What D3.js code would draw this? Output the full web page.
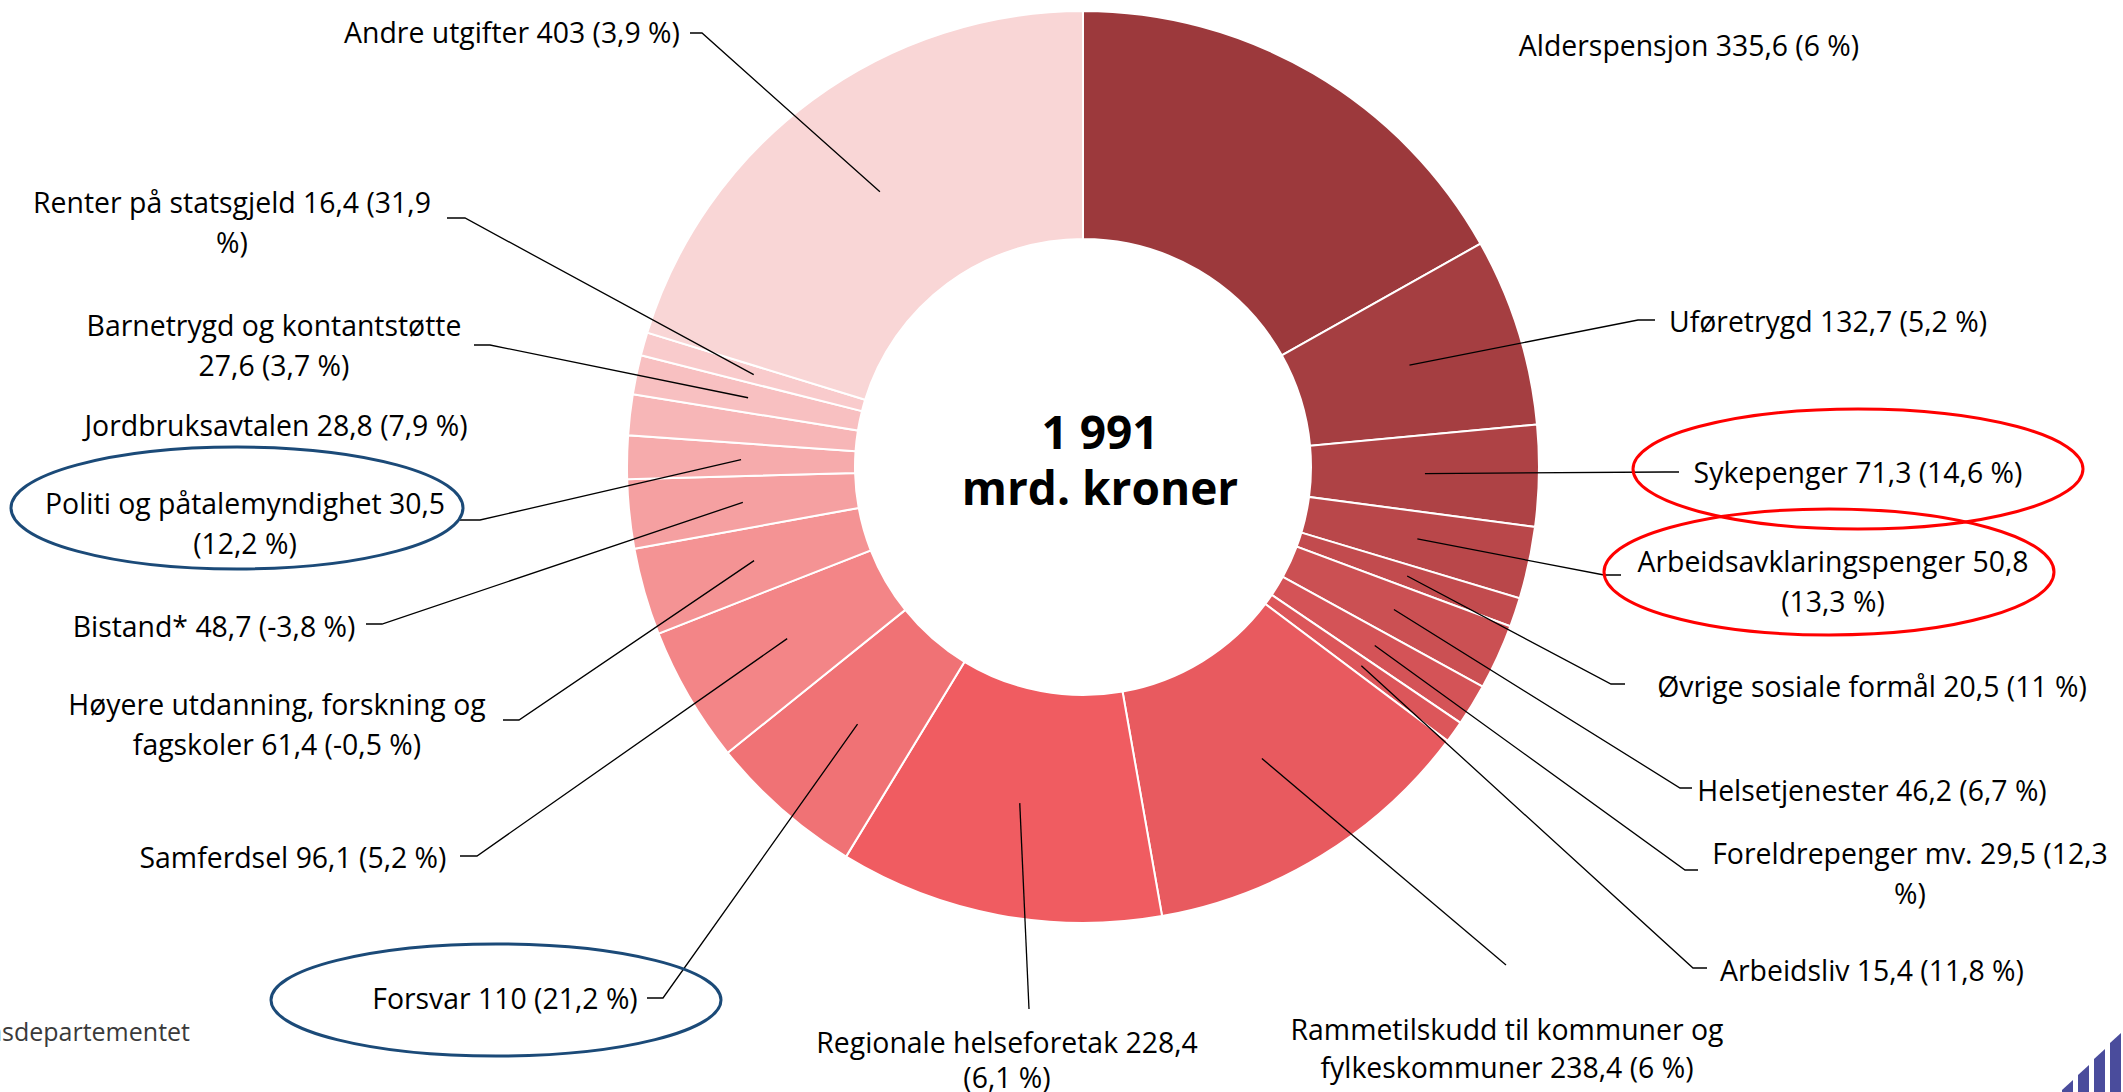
<!DOCTYPE html>
<html>
<head>
<meta charset="utf-8">
<script src="https://cdn.jsdelivr.net/npm/d3@7"></script>
<style>
  body { margin: 0; background: #fff; }
  svg { display: block; font-family: 'Open Sans', sans-serif; }
</style>
</head>
<body>
<div class="areaGrafica"></div>
<script>
// data (mrd. kroner, endring i %)
const kategorier = ['Alderspensjon', 'Uføretrygd', 'Sykepenger', 'Arbeidsavklaringspenger',
  'Øvrige sosiale formål', 'Helsetjenester', 'Foreldrepenger mv.', 'Arbeidsliv',
  'Rammetilskudd til kommuner og fylkeskommuner', 'Regionale helseforetak', 'Forsvar',
  'Samferdsel', 'Høyere utdanning, forskning og fagskoler', 'Bistand*',
  'Politi og påtalemyndighet', 'Jordbruksavtalen', 'Barnetrygd og kontantstøtte',
  'Renter på statsgjeld', 'Andre utgifter']
const verdier = [335.6, 132.7, 71.3, 50.8, 20.5, 46.2, 29.5, 15.4, 238.4, 228.4, 110,
  96.1, 61.4, 48.7, 30.5, 28.8, 27.6, 16.4, 403]
const endring = [6, 5.2, 14.6, 13.3, 11, 6.7, 12.3, 11.8, 6, 6.1, 21.2, 5.2, -0.5, -3.8,
  12.2, 7.9, 3.7, 31.9, 3.9]
const totalTekst = ['1 991', 'mrd. kroner']
const kilde = 'Kilde: Finansdepartementet'

const farger = ['#9c393c', '#a53e41', '#ae4245', '#b9474a', '#c24b4e', '#cb5053', '#d45357',
  '#dc565a', '#e85a5f', '#f05c61', '#f07275', '#f38587', '#f49394', '#f5a0a1', '#f6abac',
  '#f7b6b7', '#f8c0c1', '#f9cbcc', '#f9d6d6']

// label layout: text centre, words on first line, stub end (near label) and elbow
const etiketter = {
  'Alderspensjon':            { x: 1689, y: 45 },
  'Uføretrygd':               { x: 1828, y: 321, stub: [1655, 320], elbow: [1638, 320] },
  'Sykepenger':               { x: 1858, y: 472, stub: [1679, 472], elbow: [1665, 472] },
  'Arbeidsavklaringspenger':  { x: 1833, y: 561, brk: 2, stub: [1621, 575], elbow: [1604, 575] },
  'Øvrige sosiale formål':    { x: 1872, y: 686, stub: [1625, 684], elbow: [1611, 684] },
  'Helsetjenester':           { x: 1872, y: 790, stub: [1692, 788], elbow: [1680, 788] },
  'Foreldrepenger mv.':       { x: 1910, y: 853, brk: 4, stub: [1698, 870], elbow: [1685, 870] },
  'Arbeidsliv':               { x: 1872, y: 970, stub: [1707, 968], elbow: [1693, 968] },
  'Rammetilskudd til kommuner og fylkeskommuner': { x: 1507, y: 1029, brk: 4, lh: 38, stub: [1506, 965] },
  'Regionale helseforetak':   { x: 1007, y: 1042, brk: 3, lh: 35, stub: [1029, 1009] },
  'Forsvar':                  { x: 505, y: 998, stub: [647, 998], elbow: [663, 998] },
  'Samferdsel':               { x: 293, y: 857, stub: [460, 856], elbow: [477, 856] },
  'Høyere utdanning, forskning og fagskoler': { x: 277, y: 704, brk: 4, stub: [503, 720], elbow: [519, 720] },
  'Bistand*':                 { x: 214, y: 626, stub: [366, 624], elbow: [382, 624] },
  'Politi og påtalemyndighet': { x: 245, y: 503, brk: 4, stub: [460, 520], elbow: [480, 520] },
  'Jordbruksavtalen':         { x: 276, y: 425 },
  'Barnetrygd og kontantstøtte': { x: 274, y: 325, brk: 3, stub: [474, 345], elbow: [490, 345] },
  'Renter på statsgjeld':     { x: 232, y: 202, brk: 5, stub: [447, 218], elbow: [465, 218] },
  'Andre utgifter':           { x: 512, y: 32, stub: [690, 33], elbow: [702, 33] }
}

// highlight rings round some labels
const ringer = [
  { navn: 'Sykepenger', cx: 1858, cy: 469, rx: 225, ry: 60, farge: '#ff0000' },
  { navn: 'Arbeidsavklaringspenger', cx: 1829, cy: 572, rx: 225, ry: 63, farge: '#ff0000' },
  { navn: 'Politi og påtalemyndighet', cx: 237, cy: 508, rx: 226, ry: 61, farge: '#1b4a78' },
  { navn: 'Forsvar', cx: 496, cy: 1000, rx: 225, ry: 56, farge: '#1b4a78' }
]

const w = 2123
const h = 1092
const cx = 1083
const cy = 467
const rInner = 228
const rOuter = 456
const fontSize = 28.4
const lineH = 40

const tall = (v) => String(v).replace('.', ',')

let svg = d3.select('.areaGrafica').append('svg')
            .attr('width', w)
            .attr('height', h)

let pie = d3.pie().sort(null).value((d) => d)
let arc = d3.arc().innerRadius(rInner).outerRadius(rOuter)
let biter = pie(verdier)

let g = svg.append('g').attr('transform', 'translate(' + cx + ',' + cy + ')')

g.selectAll('path')
 .data(biter)
 .enter()
 .append('path')
 .attr('d', arc)
 .attr('fill', (d, i) => farger[i])
 .attr('stroke', '#fff')
 .attr('stroke-width', 2)

// leader lines
let linjer = svg.append('g')
biter.forEach(function (d, i) {
  let e = etiketter[kategorier[i]]
  if (!e.stub) return
  let c = arc.centroid(d)
  let pts = [[cx + c[0], cy + c[1]]]
  if (e.elbow) pts.push(e.elbow)
  pts.push(e.stub)
  linjer.append('path')
        .attr('d', d3.line()(pts))
        .attr('fill', 'none')
        .attr('stroke', '#000')
        .attr('stroke-width', 1.3)
})

// labels
let tekster = svg.append('g')
                 .attr('font-size', fontSize)
                 .attr('fill', '#000')
                 .attr('text-anchor', 'middle')
kategorier.forEach(function (navn, i) {
  let e = etiketter[navn]
  let ord = (navn + ' ' + tall(verdier[i]) + ' (' + tall(endring[i]) + ' %)').split(' ')
  let rader = e.brk ? [ord.slice(0, e.brk).join(' '), ord.slice(e.brk).join(' ')] : [ord.join(' ')]
  let t = tekster.append('text')
  rader.forEach(function (r, k) {
    t.append('tspan')
     .attr('x', e.x)
     .attr('y', e.y + k * (e.lh || lineH))
     .attr('dominant-baseline', 'central')
     .text(r)
  })
})

// ellipses
svg.append('g')
   .selectAll('ellipse')
   .data(ringer)
   .enter()
   .append('ellipse')
   .attr('cx', (d) => d.cx)
   .attr('cy', (d) => d.cy)
   .attr('rx', (d) => d.rx)
   .attr('ry', (d) => d.ry)
   .attr('fill', 'none')
   .attr('stroke', (d) => d.farge)
   .attr('stroke-width', 3)

// centre total
let midt = svg.append('text')
              .attr('text-anchor', 'middle')
              .attr('font-weight', 'bold')
              .attr('font-size', 46)
              .attr('fill', '#000')
totalTekst.forEach(function (r, k) {
  midt.append('tspan').attr('x', 1100).attr('y', 449 + k * 56).text(r)
})

// source, cut by the left edge
svg.append('text')
   .attr('x', 190)
   .attr('y', 1041)
   .attr('text-anchor', 'end')
   .attr('font-size', 25)
   .attr('fill', '#3a3a3a')
   .text(kilde)

// logo bars bottom right
let logo = svg.append('g').attr('fill', '#4a4c9c')
;[1080, 1065, 1049, 1033].forEach(function (top, i) {
  let x0 = 2062 + i * 16
  logo.append('path')
      .attr('d', 'M' + x0 + ',' + (h + 2) + 'L' + x0 + ',' + (top + 10) +
                 'L' + (x0 + 11) + ',' + top + 'L' + (x0 + 11) + ',' + (h + 2) + 'Z')
})
</script>
</body>
</html>
